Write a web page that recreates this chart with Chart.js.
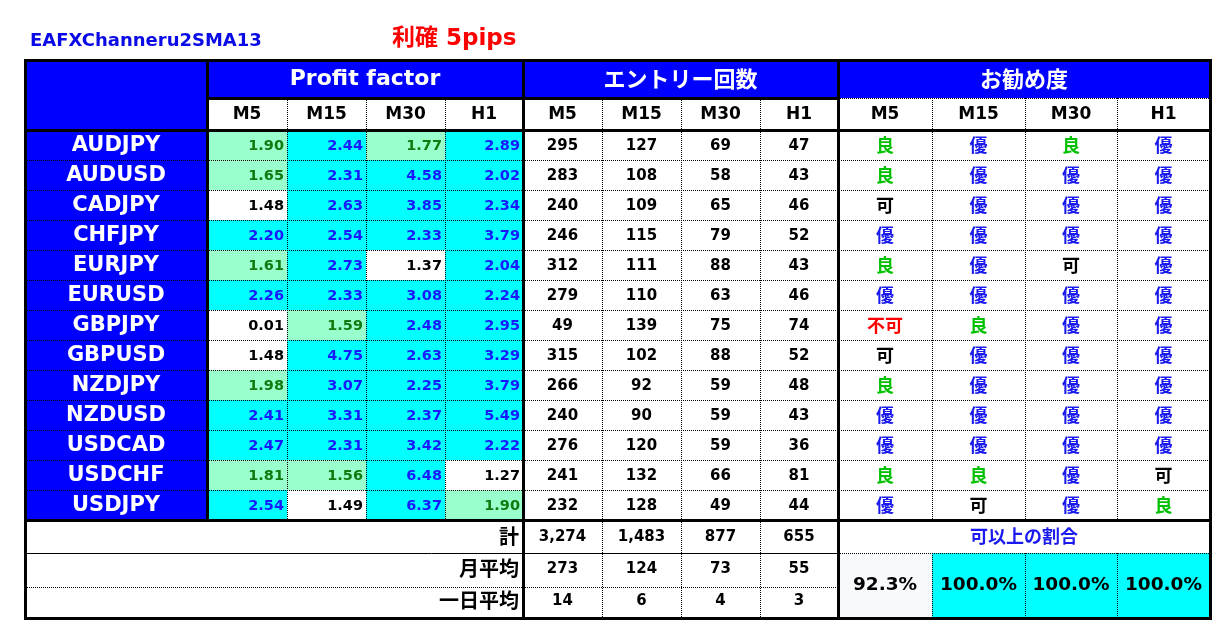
<!DOCTYPE html>
<html>
<head>
<meta charset="utf-8">
<script src="https://cdn.jsdelivr.net/npm/chart.js@4.4.0/dist/chart.umd.min.js"></script>
<style>
body { margin: 0; background: #fff; }
#wrap { width: 1229px; height: 636px; }
</style>
</head>
<body>
<div id="wrap"><canvas id="tbl" width="1229" height="636"></canvas></div>
<script>
// データ
var pairs = ['AUDJPY', 'AUDUSD', 'CADJPY', 'CHFJPY', 'EURJPY', 'EURUSD', 'GBPJPY', 'GBPUSD', 'NZDJPY', 'NZDUSD', 'USDCAD', 'USDCHF', 'USDJPY'];
var frames = ['M5', 'M15', 'M30', 'H1'];

var pfM5  = [1.90, 1.65, 1.48, 2.20, 1.61, 2.26, 0.01, 1.48, 1.98, 2.41, 2.47, 1.81, 2.54];
var pfM15 = [2.44, 2.31, 2.63, 2.54, 2.73, 2.33, 1.59, 4.75, 3.07, 3.31, 2.31, 1.56, 1.49];
var pfM30 = [1.77, 4.58, 3.85, 2.33, 1.37, 3.08, 2.48, 2.63, 2.25, 2.37, 3.42, 6.48, 6.37];
var pfH1  = [2.89, 2.02, 2.34, 3.79, 2.04, 2.24, 2.95, 3.29, 3.79, 5.49, 2.22, 1.27, 1.90];

var entM5  = [295, 283, 240, 246, 312, 279, 49, 315, 266, 240, 276, 241, 232];
var entM15 = [127, 108, 109, 115, 111, 110, 139, 102, 92, 90, 120, 132, 128];
var entM30 = [69, 58, 65, 79, 88, 63, 75, 88, 59, 59, 59, 66, 49];
var entH1  = [47, 43, 46, 52, 43, 46, 74, 52, 48, 43, 36, 81, 44];

var recM5  = ['良', '良', '可', '優', '良', '優', '不可', '可', '良', '優', '優', '良', '優'];
var recM15 = ['優', '優', '優', '優', '優', '優', '良', '優', '優', '優', '優', '良', '可'];
var recM30 = ['良', '優', '優', '優', '可', '優', '優', '優', '優', '優', '優', '優', '優'];
var recH1  = ['優', '優', '優', '優', '優', '優', '優', '優', '優', '優', '優', '可', '良'];

var totalEnt = [3274, 1483, 877, 655];
var monthAvg = [273, 124, 73, 55];
var dayAvg   = [14, 6, 4, 3];
var okRatio  = [92.3, 100.0, 100.0, 100.0];

var footLabels = ['計', '月平均', '一日平均'];

var pfCols = [pfM5, pfM15, pfM30, pfH1];
var entCols = [entM5, entM15, entM30, entH1];
var recCols = [recM5, recM15, recM30, recH1];

// レイアウト (列幅・行高さ)
var colW = [182, 80, 79, 79, 78, 79, 79, 79, 78, 94, 93, 92, 93];
var rowH = [38, 32, 30, 30, 30, 30, 30, 30, 30, 30, 30, 30, 30, 30, 30, 33, 34, 31];

var BLUE = '#0000ff';
var CYAN = '#00ffff';
var LGREEN = '#99ffcc';
var LATIN = '"DejaVu Sans", sans-serif';
var JP = '"Noto Sans CJK JP", sans-serif';

function pfBg(v) {
    if (v >= 2) return CYAN;
    if (v >= 1.5) return LGREEN;
    return '#ffffff';
}
function pfColor(v) {
    if (v >= 2) return '#1a1aff';
    if (v >= 1.5) return '#107a10';
    return '#000000';
}
function recColor(s) {
    if (s == '優') return '#1a1aee';
    if (s == '良') return '#00c000';
    if (s == '不可') return '#ff0000';
    return '#000000';
}

var tablePlugin = {
    id: 'tablePlugin',
    afterDraw: function(chart) {
        var ctx = chart.ctx;
        var xs = chart.scales.x, ys = chart.scales.y;
        var cx = [0], ry = [0];
        for (var i = 0; i < colW.length; i++) cx.push(cx[i] + colW[i]);
        for (var i = 0; i < rowH.length; i++) ry.push(ry[i] + rowH[i]);
        function X(c) { return xs.getPixelForValue(cx[c]); }
        function Y(r) { return ys.getPixelForValue(ry[r]); }
        function cell(c0, c1, r0, r1, bg) {
            ctx.fillStyle = bg;
            ctx.fillRect(X(c0), Y(r0), X(c1) - X(c0), Y(r1) - Y(r0));
        }
        function text(str, x, y, font, color, align) {
            ctx.font = font;
            ctx.fillStyle = color;
            ctx.textAlign = align || 'center';
            ctx.textBaseline = 'middle';
            ctx.fillText(str, x, y);
        }
        function hline(c0, c1, r, w, dotted) {
            ctx.save();
            ctx.strokeStyle = '#000';
            ctx.lineWidth = w;
            ctx.setLineDash(dotted ? [1, 1] : []);
            var y = Math.round(Y(r)) + (w % 2 ? 0.5 : 0);
            ctx.beginPath();
            ctx.moveTo(X(c0), y);
            ctx.lineTo(X(c1), y);
            ctx.stroke();
            ctx.restore();
        }
        function vline(c, r0, r1, w, dotted) {
            ctx.save();
            ctx.strokeStyle = '#000';
            ctx.lineWidth = w;
            ctx.setLineDash(dotted ? [1, 1] : []);
            var x = Math.round(X(c)) + (w % 2 ? 0.5 : 0);
            ctx.beginPath();
            ctx.moveTo(x, Y(r0));
            ctx.lineTo(x, Y(r1));
            ctx.stroke();
            ctx.restore();
        }
        function midX(c0, c1) { return (X(c0) + X(c1)) / 2; }
        function midY(r0, r1) { return (Y(r0) + Y(r1)) / 2; }

        // タイトル
        text('EAFXChanneru2SMA13', 30, 41, 'bold 18px ' + LATIN, '#0a0ae6', 'left');
        text('利確 5pips', 392, 39, 'bold 23px "DejaVu Sans", "Noto Sans CJK JP", sans-serif', '#ff0000', 'left');

        // 背景
        cell(0, 1, 0, 2, BLUE);
        cell(1, 13, 0, 1, BLUE);
        cell(1, 13, 1, 2, '#ffffff');
        for (var i = 0; i < pairs.length; i++) {
            cell(0, 1, 2 + i, 3 + i, BLUE);
            for (var j = 0; j < 4; j++) {
                cell(1 + j, 2 + j, 2 + i, 3 + i, pfBg(pfCols[j][i]));
            }
        }
        for (var j = 0; j < 4; j++) {
            cell(9 + j, 10 + j, 16, 18, okRatio[j] >= 100 ? CYAN : '#f8f9fd');
        }

        // 点線
        for (var i = 1; i < pairs.length; i++) hline(0, 13, 2 + i, 1, true);
        [2, 3, 4, 6, 7, 8, 10, 11, 12].forEach(function(c) {
            vline(c, 1, 15, 1, true);
        });
        [6, 7, 8].forEach(function(c) { vline(c, 15, 18, 1, true); });
        [10, 11, 12].forEach(function(c) { vline(c, 16, 18, 1, true); });
        hline(9, 13, 1, 1, true);
        hline(9, 13, 16, 1, true);
        hline(0, 9, 17, 1, true);
        hline(0, 9, 16, 1, false);

        // 太線
        vline(1, 0, 15, 3, false);
        vline(5, 0, 18, 3, false);
        vline(9, 0, 18, 3, false);
        hline(1, 9, 1, 3, false);
        hline(0, 13, 2, 3, false);
        hline(0, 13, 15, 3, false);
        ctx.save();
        ctx.strokeStyle = '#000';
        ctx.lineWidth = 3;
        ctx.strokeRect(Math.round(X(0)) + 0.5, Math.round(Y(0)) + 0.5, X(13) - X(0), Y(18) - Y(0));
        ctx.restore();

        // 見出し
        var head = 'bold 22px ' + LATIN;
        text('Profit factor', midX(1, 5), midY(0, 1), head, '#ffffff');
        text('エントリー回数', midX(5, 9), midY(0, 1), 'bold 22px ' + JP, '#ffffff');
        text('お勧め度', midX(9, 13), midY(0, 1), 'bold 22px ' + JP, '#ffffff');
        for (var g = 0; g < 3; g++) {
            for (var j = 0; j < 4; j++) {
                var c = 1 + g * 4 + j;
                text(frames[j], midX(c, c + 1), midY(1, 2) + 1, 'bold 17px ' + LATIN, '#000000');
            }
        }

        // 本体
        for (var i = 0; i < pairs.length; i++) {
            var y = midY(2 + i, 3 + i);
            text(pairs[i], midX(0, 1), y + 1, 'bold 21px ' + LATIN, '#ffffff');
            for (var j = 0; j < 4; j++) {
                var v = pfCols[j][i];
                text(v.toFixed(2), X(2 + j) - 3, y + 1, 'bold 14.5px ' + LATIN, pfColor(v), 'right');
                text(String(entCols[j][i]), midX(5 + j, 6 + j), y + 1, 'bold 15px ' + LATIN, '#000000');
                var r = recCols[j][i];
                text(r, midX(9 + j, 10 + j), y, 'bold 18px ' + JP, recColor(r));
            }
        }

        // 合計・平均
        var footRows = [totalEnt, monthAvg, dayAvg];
        var adj = [0, -2, -2];
        for (var k = 0; k < 3; k++) {
            var y = midY(15 + k, 16 + k) + adj[k];
            text(footLabels[k], X(5) - 4, y, 'bold 20px ' + JP, '#000000', 'right');
            for (var j = 0; j < 4; j++) {
                text(footRows[k][j].toLocaleString('en-US'), midX(5 + j, 6 + j), y + 1, 'bold 15px ' + LATIN, '#000000');
            }
        }
        text('可以上の割合', midX(9, 13), midY(15, 16), 'bold 18px ' + JP, '#1a1aee');
        for (var j = 0; j < 4; j++) {
            text(okRatio[j].toFixed(1) + '%', midX(9 + j, 10 + j), midY(16, 18), 'bold 18.5px ' + LATIN, '#000000');
        }
    }
};

var totalW = colW.reduce(function(a, b) { return a + b; }, 0);
var totalH = rowH.reduce(function(a, b) { return a + b; }, 0);

new Chart(document.getElementById('tbl').getContext('2d'), {
    type: 'scatter',
    data: { datasets: [{ data: [] }] },
    options: {
        responsive: false,
        animation: false,
        devicePixelRatio: 1,
        layout: { padding: { left: 25, top: 60, right: 19, bottom: 18 } },
        scales: {
            x: { type: 'linear', min: 0, max: totalW, display: false },
            y: { type: 'linear', min: 0, max: totalH, reverse: true, display: false }
        },
        plugins: {
            legend: { display: false },
            tooltip: { enabled: false }
        }
    },
    plugins: [tablePlugin]
});
</script>
</body>
</html>
